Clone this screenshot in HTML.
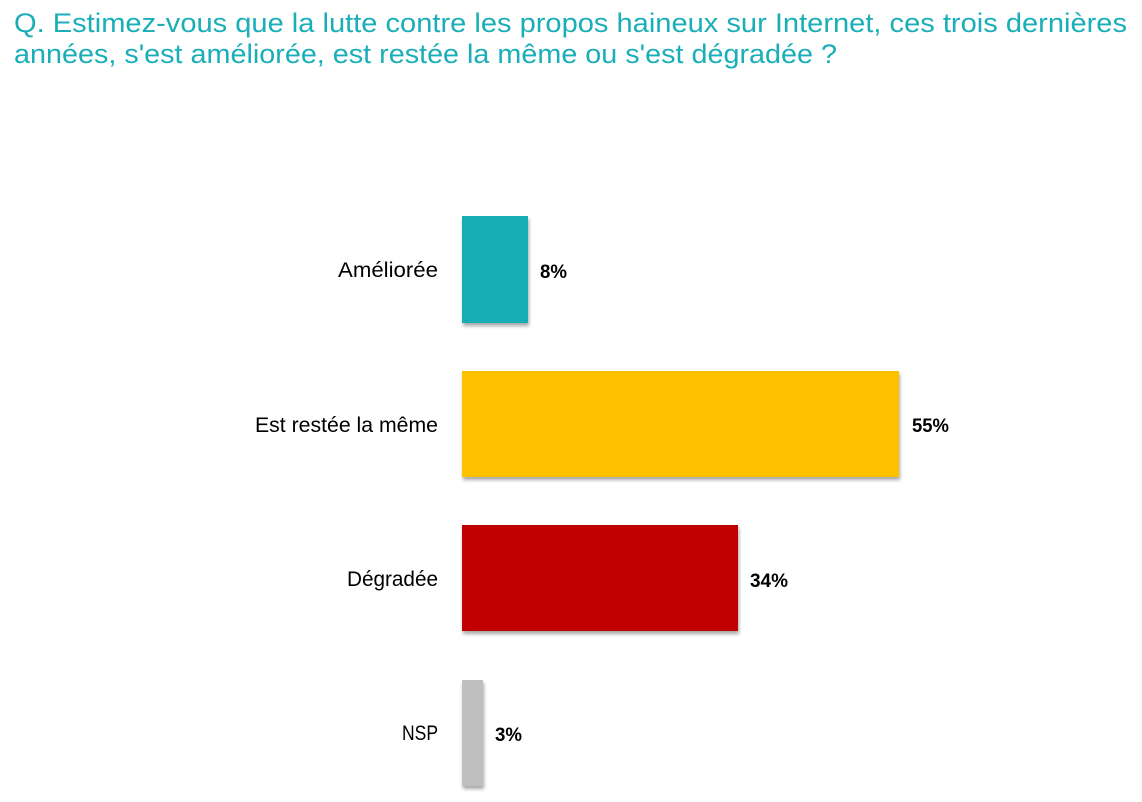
<!DOCTYPE html>
<html>
<head>
<meta charset="utf-8">
<style>
  html, body { margin: 0; padding: 0; background: #ffffff; }
  body { width: 1142px; height: 802px; overflow: hidden; }
  svg { display: block; }
</style>
</head>
<body>
<svg width="1142" height="802" viewBox="0 0 1142 802" xmlns="http://www.w3.org/2000/svg">
  <defs>
    <filter id="sh" x="-10%" y="-10%" width="130%" height="130%">
      <feGaussianBlur in="SourceAlpha" stdDeviation="1.8"/>
      <feOffset dx="1" dy="3" result="ob"/>
      <feComponentTransfer><feFuncA type="linear" slope="0.35"/></feComponentTransfer>
      <feMerge><feMergeNode/><feMergeNode in="SourceGraphic"/></feMerge>
    </filter>
  </defs>

  <!-- Title -->
  <g font-family="'Liberation Sans', sans-serif" font-size="27" fill="#1AAFB8">
    <text x="14" y="32" textLength="1113" lengthAdjust="spacingAndGlyphs">Q. Estimez-vous que la lutte contre les propos haineux sur Internet, ces trois dernières</text>
    <text x="14" y="63" textLength="823" lengthAdjust="spacingAndGlyphs">années, s'est améliorée, est restée la même ou s'est dégradée ?</text>
  </g>

  <!-- Bars -->
  <g filter="url(#sh)">
    <rect x="462" y="216" width="66" height="107" fill="#17AEB6"/>
    <rect x="462" y="371" width="437" height="106" fill="#FFC000"/>
    <rect x="462" y="525" width="276" height="106" fill="#C00000"/>
    <rect x="462" y="680" width="21" height="106" fill="#BFBFBF"/>
  </g>

  <!-- Category labels -->
  <g font-family="'Liberation Sans', sans-serif" font-size="21" fill="#000000" text-anchor="end">
    <text x="438" y="277" textLength="100" lengthAdjust="spacingAndGlyphs">Améliorée</text>
    <text x="438" y="432" textLength="183" lengthAdjust="spacingAndGlyphs">Est restée la même</text>
    <text x="438" y="586" textLength="91" lengthAdjust="spacingAndGlyphs">Dégradée</text>
    <text x="438" y="740" textLength="36" lengthAdjust="spacingAndGlyphs">NSP</text>
  </g>

  <!-- Value labels -->
  <g font-family="'Liberation Sans', sans-serif" font-size="19" font-weight="bold" fill="#000000">
    <text x="540" y="278" textLength="27" lengthAdjust="spacingAndGlyphs">8%</text>
    <text x="912" y="432" textLength="37" lengthAdjust="spacingAndGlyphs">55%</text>
    <text x="750" y="587" textLength="38" lengthAdjust="spacingAndGlyphs">34%</text>
    <text x="495" y="741" textLength="27" lengthAdjust="spacingAndGlyphs">3%</text>
  </g>
</svg>
</body>
</html>
